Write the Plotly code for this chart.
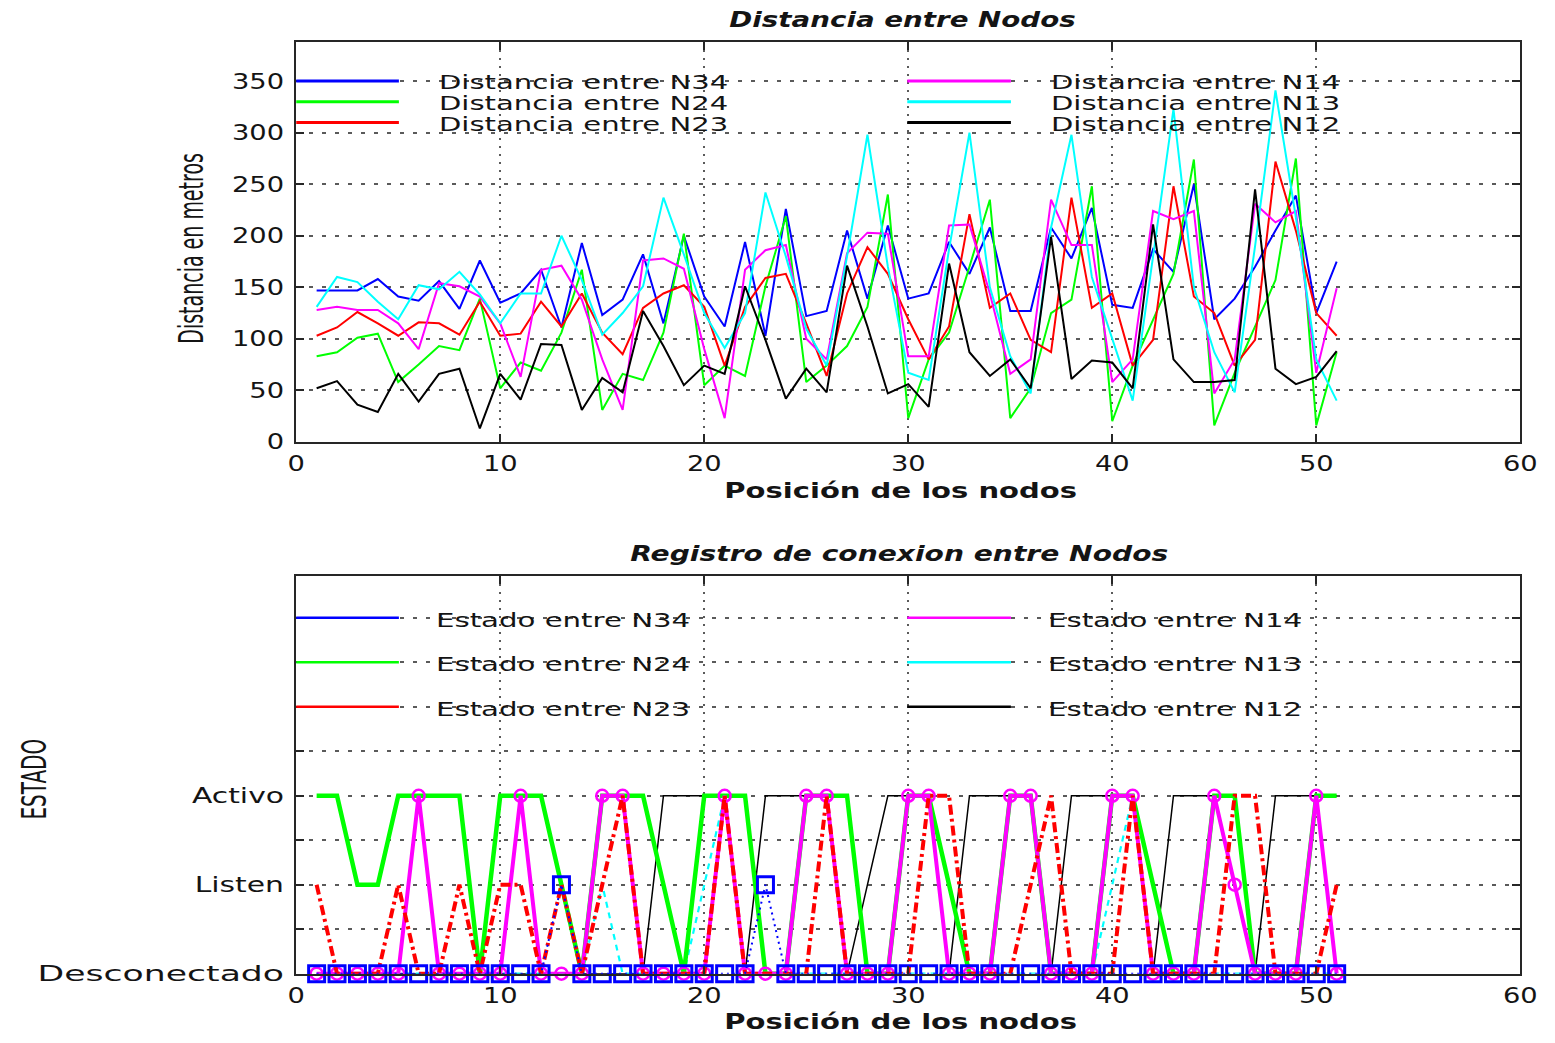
import plotly.graph_objects as go

W, H = 1555, 1043

# Node positions (x axis shared by both panels)
pos = list(range(1, 52))

# Distances between node pairs, in metres
dist_n34 = [147, 147, 147, 158, 141, 137, 156, 129, 176, 135,
            144, 167, 111, 193, 123, 138, 182, 115, 200, 141,
            112, 194, 103, 226, 122, 127, 205, 139, 210, 139,
            144, 194, 163, 208, 127, 127, 208, 178, 227, 133,
            130, 187, 165, 250, 119, 139, 170, 205, 239, 125,
            175]
dist_n24 = [83, 87, 101, 105, 58, 75, 93, 89, 139, 52,
            77, 69, 106, 167, 31, 66, 60, 106, 202, 55,
            74, 64, 151, 219, 58, 74, 93, 131, 240, 23,
            80, 106, 170, 235, 23, 52, 125, 138, 248, 20,
            74, 119, 163, 274, 16, 67, 112, 157, 275, 16,
            87]
dist_n23 = [103, 111, 126, 115, 103, 116, 115, 104, 136, 103,
            105, 136, 112, 144, 106, 85, 130, 144, 152, 131,
            74, 131, 159, 163, 115, 64, 144, 189, 163, 119,
            80, 112, 221, 130, 144, 99, 87, 237, 130, 144,
            74, 99, 248, 141, 125, 74, 99, 272, 205, 125,
            103]
dist_n14 = [128, 131, 128, 128, 115, 90, 154, 151, 141, 115,
            63, 167, 171, 138, 80, 31, 176, 178, 168, 90,
            23, 167, 186, 191, 100, 80, 183, 203, 202, 83,
            83, 210, 211, 144, 66, 80, 235, 191, 191, 58,
            80, 224, 216, 224, 47, 80, 231, 213, 224, 67,
            149]
dist_n13 = [131, 160, 155, 136, 119, 152, 148, 165, 143, 115,
            144, 144, 200, 157, 104, 125, 151, 237, 182, 125,
            91, 125, 242, 180, 110, 74, 180, 298, 170, 67,
            60, 187, 300, 150, 83, 47, 208, 298, 160, 100,
            40, 180, 323, 150, 87, 48, 190, 341, 218, 80,
            40]
dist_n12 = [52, 59, 36, 29, 66, 39, 66, 71, 13, 66,
            41, 95, 94, 31, 62, 48, 127, 93, 55, 74,
            66, 151, 99, 42, 71, 48, 171, 112, 47, 56,
            34, 173, 87, 64, 80, 52, 199, 61, 79, 77,
            52, 211, 80, 58, 58, 60, 245, 71, 56, 63,
            88]

# Link state: 0 = Desconectado, 1 = Listen, 2 = Activo
state_n34 = [0, 0, 0, 0, 0, 0, 0, 0, 0, 0,
             0, 0, 1, 0, 0, 0, 0, 0, 0, 0,
             0, 0, 1, 0, 0, 0, 0, 0, 0, 0,
             0, 0, 0, 0, 0, 0, 0, 0, 0, 0,
             0, 0, 0, 0, 0, 0, 0, 0, 0, 0,
             0]
state_n24 = [2, 2, 1, 1, 2, 2, 2, 2, 0, 2,
             2, 2, 1, 0, 2, 2, 2, 1, 0, 2,
             2, 2, 0, 0, 2, 2, 2, 0, 0, 2,
             2, 1, 0, 0, 2, 2, 0, 0, 0, 2,
             2, 1, 0, 0, 2, 2, 0, 0, 0, 2,
             2]
state_n23 = [1, 0, 0, 0, 1, 0, 0, 1, 0, 1,
             1, 0, 1, 0, 1, 2, 0, 0, 0, 0,
             2, 0, 0, 0, 0, 2, 0, 0, 0, 0,
             2, 2, 0, 0, 0, 1, 2, 0, 0, 0,
             2, 0, 0, 0, 0, 2, 2, 0, 0, 0,
             1]
state_n14 = [0, 0, 0, 0, 0, 2, 0, 0, 0, 0,
             2, 0, 0, 0, 2, 2, 0, 0, 0, 0,
             2, 0, 0, 0, 2, 2, 0, 0, 0, 2,
             2, 0, 0, 0, 2, 2, 0, 0, 0, 2,
             2, 0, 0, 0, 2, 1, 0, 0, 0, 2,
             0]
state_n13 = [0, 0, 0, 0, 0, 0, 0, 0, 0, 0,
             0, 0, 0, 0, 1, 0, 0, 0, 0, 1,
             2, 0, 0, 0, 0, 0, 0, 0, 0, 0,
             0, 0, 0, 0, 0, 0, 0, 0, 0, 1,
             2, 0, 0, 0, 0, 0, 0, 0, 0, 0,
             0]
state_n12 = [0, 0, 0, 0, 0, 0, 0, 0, 0, 0,
             0, 0, 0, 0, 0, 0, 0, 2, 2, 2,
             2, 0, 2, 2, 2, 2, 0, 1, 2, 2,
             2, 0, 2, 2, 2, 2, 0, 2, 2, 2,
             2, 0, 2, 2, 2, 2, 0, 2, 2, 2,
             2]

dist_ticks = [0, 50, 100, 150, 200, 250, 300, 350]
state_tickvals = [0, 0.5, 1, 1.5, 2, 2.5, 3, 3.5, 4]
state_ticktext = ["Desconectado", "", "Listen", "", "Activo", "", "", "", ""]
x_ticks = [0, 10, 20, 30, 40, 50, 60]

dist_names = ["Distancia entre N34", "Distancia entre N24", "Distancia entre N23",
              "Distancia entre N14", "Distancia entre N13", "Distancia entre N12"]
state_names = ["Estado entre N34", "Estado entre N24", "Estado entre N23",
               "Estado entre N14", "Estado entre N13", "Estado entre N12"]

BLUE, GREEN, RED = "#0000ff", "#00ff00", "#ff0000"
MAGENTA, CYAN, BLACK = "#ff00ff", "#00ffff", "#000000"
TXT = "#141414"
AXC = "#262626"
GRIDC = "#5a5a5a"
FONT = "DejaVu Sans, Liberation Sans, sans-serif"


def fx(p):
    return p / W


def fy(p):
    return 1 - p / H


fig = go.Figure()

# ---- top panel: distances ----
for vals, col in [(dist_n34, BLUE), (dist_n24, GREEN), (dist_n23, RED),
                  (dist_n14, MAGENTA), (dist_n13, CYAN), (dist_n12, BLACK)]:
    fig.add_trace(go.Scatter(x=pos, y=vals, mode="lines", showlegend=False,
                             line=dict(color=col, width=2), xaxis="x", yaxis="y"))

# ---- bottom panel: link states ----
fig.add_trace(go.Scatter(x=pos, y=state_n12, mode="lines", showlegend=False,
                         line=dict(color=BLACK, width=1.5), cliponaxis=False,
                         xaxis="x2", yaxis="y2"))
fig.add_trace(go.Scatter(x=pos, y=state_n13, mode="lines", showlegend=False,
                         line=dict(color=CYAN, width=2.2, dash="6px,5px"), cliponaxis=False,
                         xaxis="x2", yaxis="y2"))
fig.add_trace(go.Scatter(x=pos, y=state_n24, mode="lines", showlegend=False,
                         line=dict(color=GREEN, width=4.5), cliponaxis=False,
                         xaxis="x2", yaxis="y2"))
fig.add_trace(go.Scatter(x=pos, y=state_n14, mode="lines+markers", showlegend=False,
                         line=dict(color=MAGENTA, width=4),
                         marker=dict(symbol="circle-open", size=12, color=MAGENTA,
                                     line=dict(width=2.5, color=MAGENTA)),
                         cliponaxis=False, xaxis="x2", yaxis="y2"))
fig.add_trace(go.Scatter(x=pos, y=state_n23, mode="lines", showlegend=False,
                         line=dict(color=RED, width=4, dash="10px,4px,3px,4px"),
                         cliponaxis=False, xaxis="x2", yaxis="y2"))
fig.add_trace(go.Scatter(x=pos, y=state_n34, mode="lines+markers", showlegend=False,
                         line=dict(color=BLUE, width=2, dash="2px,4px"),
                         marker=dict(symbol="square-open", size=16, color=BLUE,
                                     line=dict(width=3, color=BLUE)),
                         cliponaxis=False, xaxis="x2", yaxis="y2"))

axis_common = dict(
    showline=True, linecolor=AXC, linewidth=2, mirror="ticks",
    ticks="inside", ticklen=8, tickwidth=1.5, tickcolor=AXC,
    showgrid=True, gridcolor=GRIDC, gridwidth=1.5, zeroline=False,
    tickfont=dict(family=FONT, size=21, color=TXT),
)
xdom = [fx(293), fx(1533)]

fig.update_layout(
    width=W, height=H,
    margin=dict(l=0, r=0, t=0, b=0),
    paper_bgcolor="white", plot_bgcolor="white",
    showlegend=False,
    xaxis=dict(axis_common, domain=xdom, range=[0, 60], tickvals=x_ticks,
               griddash="2px,6px", anchor="y", ticklabelstandoff=2),
    yaxis=dict(axis_common, domain=[fy(447), fy(42)], range=[0, 388.5],
               tickvals=dist_ticks, griddash="4px,9px", anchor="x",
               ticklabelstandoff=6),
    xaxis2=dict(axis_common, domain=xdom, range=[0, 60], tickvals=x_ticks,
                griddash="2px,6px", anchor="y2", ticklabelstandoff=2),
    yaxis2=dict(axis_common, domain=[fy(985), fy(583)], range=[0, 4.467],
                tickvals=state_tickvals, ticktext=state_ticktext,
                griddash="4px,9px", anchor="x2", ticklabelstandoff=6),
)

annotations = []
shapes = []


def label(text, x, y, size, bold=False, italic=False, angle=0, anchor="center"):
    annotations.append(dict(
        text=text, x=fx(x), y=fy(y + (2 if angle == 0 else 0)),
        xref="paper", yref="paper",
        xanchor=anchor, yanchor="middle",
        align="left" if anchor == "left" else "center",
        showarrow=False, textangle=angle,
        font=dict(family=FONT, size=size, color=TXT,
                  weight="bold" if bold else "normal",
                  style="italic" if italic else "normal"),
    ))


# titles and axis labels
label("Distancia entre Nodos", 907, 18, 22, bold=True, italic=True)
label("Posición de los nodos", 905, 494, 22, bold=True)
label("Registro de conexion entre Nodos", 904, 558, 22, bold=True, italic=True)
label("Posición de los nodos", 905, 1031, 22, bold=True)
label("Distancia en metros", 186, 251, 19, angle=-90)
label("ESTADO", 28, 788, 20, angle=-90)

# hand-placed two-column legends
top_rows = [82, 103, 124]
bot_rows = [625, 670, 715]
series_cols = [BLUE, GREEN, RED, MAGENTA, CYAN, BLACK]
for i, (name, col) in enumerate(zip(dist_names, series_cols)):
    row = top_rows[i % 3]
    x0, x1, xt = (293, 397, 436) if i < 3 else (912, 1017, 1056)
    shapes.append(dict(type="line", xref="paper", yref="paper",
                       x0=fx(x0), x1=fx(x1), y0=fy(row), y1=fy(row),
                       line=dict(color=col, width=3)))
    label(name, xt, row - 1, 19, anchor="left")
for i, (name, col) in enumerate(zip(state_names, series_cols)):
    row = bot_rows[i % 3]
    x0, x1, xt = (293, 397, 433) if i < 3 else (912, 1017, 1053)
    shapes.append(dict(type="line", xref="paper", yref="paper",
                       x0=fx(x0), x1=fx(x1), y0=fy(row), y1=fy(row),
                       line=dict(color=col, width=2.5)))
    label(name, xt, row, 20, anchor="left")

fig.update_layout(annotations=annotations, shapes=shapes)

# page without body margin, and lettering stretched horizontally (rotated
# labels across their baseline) to the wide proportions of the original plot
stretch_js = """
document.documentElement.style.margin = '0';
document.body.style.margin = '0';
document.body.style.overflow = 'hidden';
var gd = document.getElementById('{plot_id}');
var upright = {'Distancia en metros': 1.75, 'ESTADO': 1.65};
var wide = {'Desconectado': 1.65, 'Activo': 1.42, 'Listen': 1.42,
            'Posición de los nodos': 1.32, 'Distancia entre Nodos': 1.26,
            'Registro de conexion entre Nodos': 1.28};
gd.querySelectorAll('text').forEach(function (t) {
    var s = t.textContent;
    if (!s) { return; }
    var b = t.getBBox();
    if (!b.width) { return; }
    var cy = b.y + b.height / 2;
    var ax = b.x + b.width / 2;
    var sx = 1, sy = 1;
    if (upright[s]) {
        sy = upright[s];
    } else {
        if (wide[s]) { sx = wide[s]; }
        else if (/^[0-9]+$/.test(s)) { sx = 1.3; }
        else if (s.indexOf('Distancia entre N') === 0) { sx = 1.53; }
        else { sx = 1.46; }
        var anchor = window.getComputedStyle(t).textAnchor;
        if (anchor === 'end') { ax = b.x + b.width; }
        else if (anchor === 'start') { ax = b.x; }
    }
    var base = t.getAttribute('transform') || '';
    t.setAttribute('transform', base + ' translate(' + ax + ',' + cy + ') scale(' +
        sx + ',' + sy + ') translate(' + (-ax) + ',' + (-cy) + ')');
});
"""

fig.write_html("out.html", post_script=stretch_js,
               config={"displayModeBar": False})
